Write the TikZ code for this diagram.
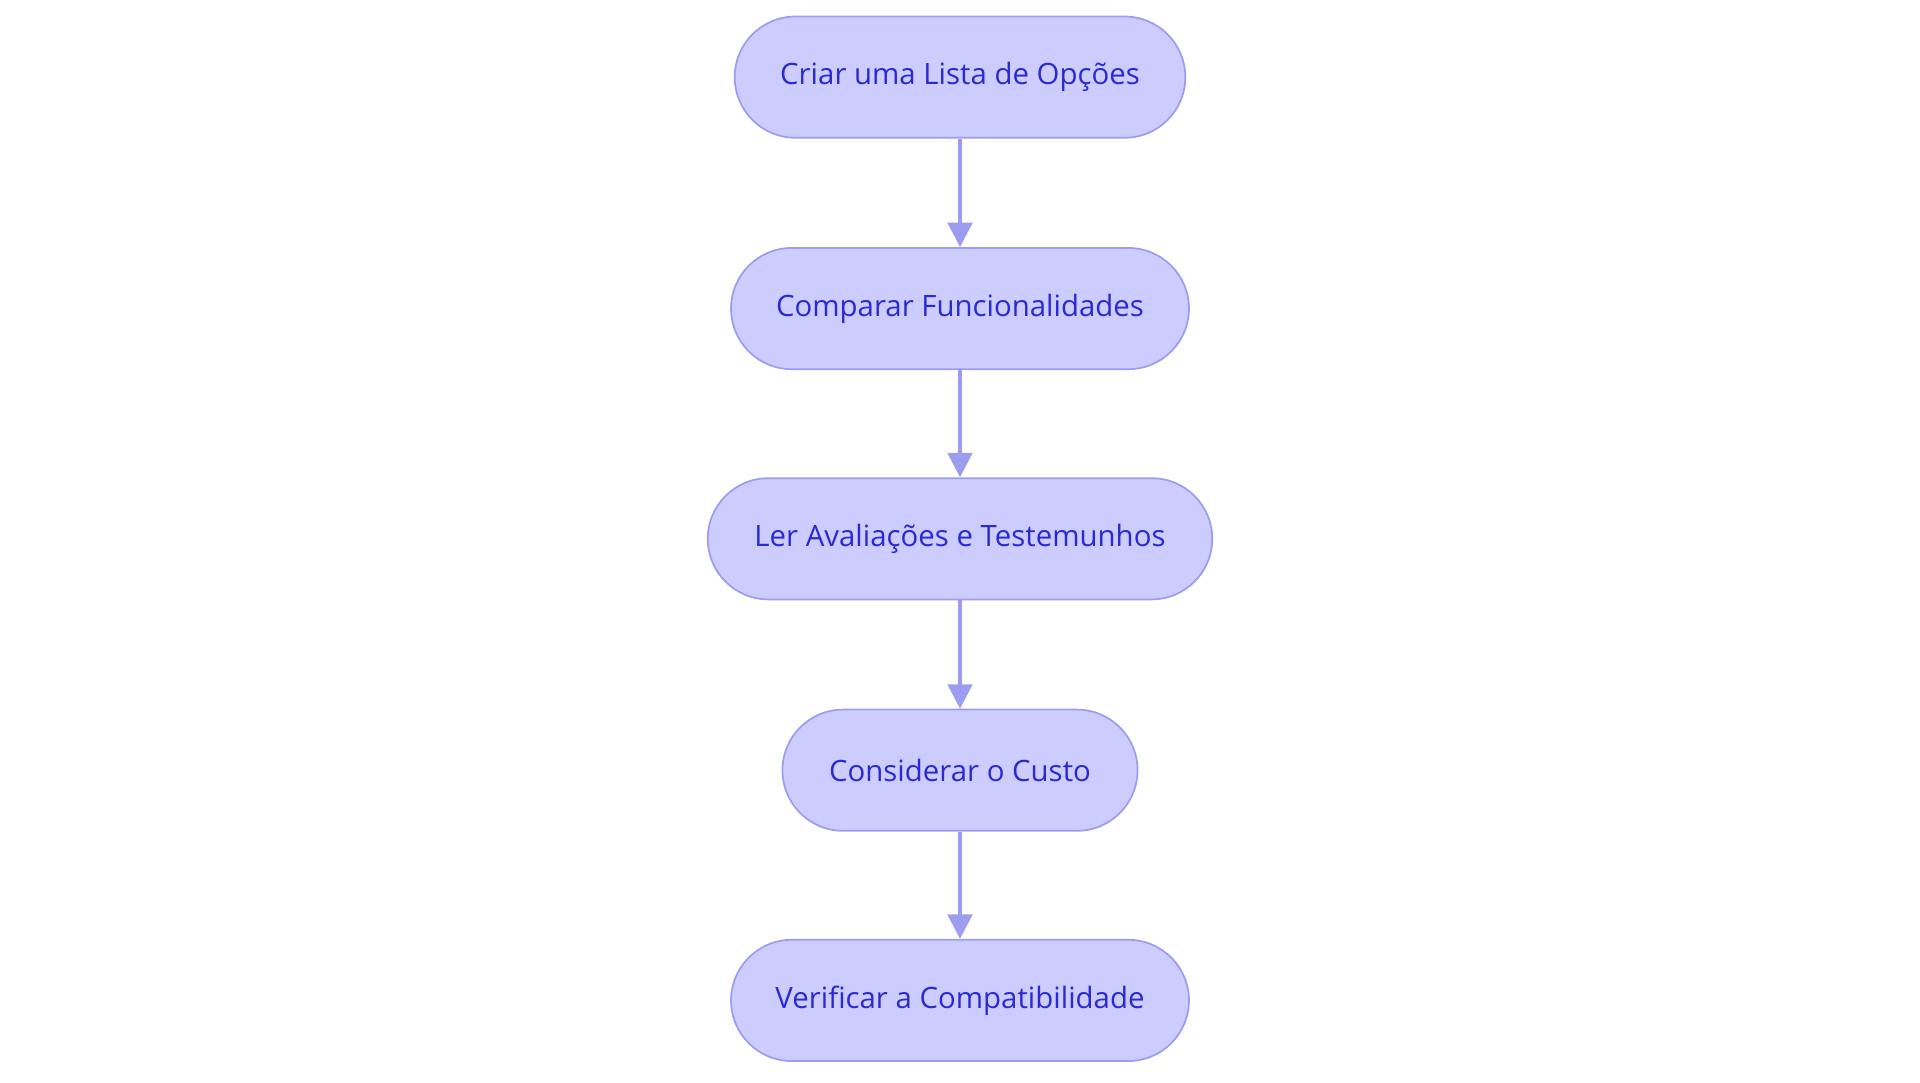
\documentclass[tikz,border=0pt]{standalone}
\usepackage{fontspec}
\setmainfont{Open Sans}
\usetikzlibrary{arrows.meta}
\definecolor{nfill}{HTML}{CCCCFF}
\definecolor{nline}{HTML}{9C9CF0}
\definecolor{ntext}{HTML}{2A2AD2}
\begin{document}
\begin{tikzpicture}[x=0.5pt,y=-0.5pt,
  box/.style={draw=nline,fill=nfill,text=ntext,line width=0.7pt,rounded corners=24.75pt,
    minimum height=49.5pt,inner sep=0pt,font=\fontsize{12pt}{14pt}\selectfont},
  arr/.style={draw=nline,line width=1.5pt,-{Triangle[length=10pt,width=10pt]}}]
\useasboundingbox (0,0) rectangle (1568,884);
\node[box,minimum width=184pt] (a) at (784,63) {Criar uma Lista de Opções};
\node[box,minimum width=187pt] (b) at (784,252) {Comparar Funcionalidades};
\node[box,minimum width=206pt] (c) at (784,440) {Ler Avaliações e Testemunhos};
\node[box,minimum width=145pt] (d) at (784,629) {Considerar o Custo};
\node[box,minimum width=187pt] (e) at (784,817) {Verificar a Compatibilidade};
\draw[arr] (a) -- (b);
\draw[arr] (b) -- (c);
\draw[arr] (c) -- (d);
\draw[arr] (d) -- (e);
\end{tikzpicture}
\end{document}
